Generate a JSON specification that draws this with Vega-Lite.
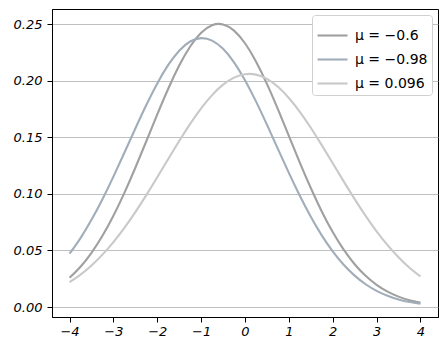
{
  "$schema": "https://vega.github.io/schema/vega-lite/v6.json",
  "width": 386,
  "height": 308,
  "autosize": {"type": "none"},
  "padding": {"left": 52, "top": 9, "right": 10, "bottom": 34},
  "background": "white",
  "config": {
    "view": {"stroke": "black", "strokeWidth": 1},
    "font": "DejaVu Sans",
    "axis": {
      "domainColor": "black",
      "tickColor": "black",
      "tickSize": 5,
      "labelFontSize": 13,
      "labelFontStyle": "italic",
      "labelColor": "black",
      "labelFont": "DejaVu Sans",
      "title": null
    }
  },
  "data": {"values": [
    {"x": -4, "a": 0.02579, "b": 0.04713, "c": 0.02202},
    {"x": -3.75, "a": 0.03558, "b": 0.06093, "c": 0.02869},
    {"x": -3.5, "a": 0.04790, "b": 0.07703, "c": 0.03676},
    {"x": -3.25, "a": 0.06291, "b": 0.09526, "c": 0.04632},
    {"x": -3, "a": 0.08063, "b": 0.11523, "c": 0.05742},
    {"x": -2.75, "a": 0.10083, "b": 0.13631, "c": 0.06999},
    {"x": -2.5, "a": 0.12303, "b": 0.15772, "c": 0.08390},
    {"x": -2.25, "a": 0.14647, "b": 0.17849, "c": 0.09892},
    {"x": -2, "a": 0.17016, "b": 0.19757, "c": 0.11469},
    {"x": -1.75, "a": 0.19288, "b": 0.21389, "c": 0.13079},
    {"x": -1.5, "a": 0.21331, "b": 0.22648, "c": 0.14668},
    {"x": -1.25, "a": 0.23019, "b": 0.23456, "c": 0.16179},
    {"x": -1, "a": 0.24238, "b": 0.23759, "c": 0.17550},
    {"x": -0.75, "a": 0.24902, "b": 0.23539, "c": 0.18722},
    {"x": -0.5, "a": 0.24963, "b": 0.22810, "c": 0.19644},
    {"x": -0.25, "a": 0.24417, "b": 0.21618, "c": 0.20270},
    {"x": 0, "a": 0.23304, "b": 0.20039, "c": 0.20571},
    {"x": 0.25, "a": 0.21701, "b": 0.18169, "c": 0.20531},
    {"x": 0.5, "a": 0.19718, "b": 0.16112, "c": 0.20153},
    {"x": 0.75, "a": 0.17482, "b": 0.13975, "c": 0.19455},
    {"x": 1, "a": 0.15124, "b": 0.11854, "c": 0.18471},
    {"x": 1.25, "a": 0.12764, "b": 0.09836, "c": 0.17247},
    {"x": 1.5, "a": 0.10514, "b": 0.07982, "c": 0.15838},
    {"x": 1.75, "a": 0.08448, "b": 0.06335, "c": 0.14304},
    {"x": 2, "a": 0.06624, "b": 0.04918, "c": 0.12705},
    {"x": 2.25, "a": 0.05068, "b": 0.03734, "c": 0.11098},
    {"x": 2.5, "a": 0.03783, "b": 0.02773, "c": 0.09535},
    {"x": 2.75, "a": 0.02756, "b": 0.02014, "c": 0.08056},
    {"x": 3, "a": 0.01959, "b": 0.01431, "c": 0.06694},
    {"x": 3.25, "a": 0.01358, "b": 0.00994, "c": 0.05471},
    {"x": 3.5, "a": 0.00919, "b": 0.00676, "c": 0.04397},
    {"x": 3.75, "a": 0.00607, "b": 0.00449, "c": 0.03476},
    {"x": 4, "a": 0.00391, "b": 0.00292, "c": 0.02702}
  ]},
  "transform": [
    {"fold": ["a", "b", "c"], "as": ["key", "y"]},
    {"lookup": "key", "from": {"data": {"values": [
      {"key": "a", "series": "μ = −0.6", "order": 0},
      {"key": "b", "series": "μ = −0.98", "order": 1},
      {"key": "c", "series": "μ = 0.096", "order": 2}
    ]}, "key": "key", "fields": ["series", "order"]}}
  ],
  "mark": {"type": "line", "strokeWidth": 2.1, "interpolate": "natural", "clip": true},
  "encoding": {
    "x": {
      "field": "x", "type": "quantitative",
      "scale": {"domain": [-4.4, 4.4], "nice": false, "zero": false},
      "axis": {"values": [-4, -3, -2, -1, 0, 1, 2, 3, 4], "grid": false, "labelPadding": 3, "format": "d"}
    },
    "y": {
      "field": "y", "type": "quantitative",
      "scale": {"domain": [-0.0088, 0.2633], "nice": false, "zero": false},
      "axis": {"values": [0, 0.05, 0.1, 0.15, 0.2, 0.25], "format": ".2f", "grid": true, "gridColor": "#b0b0b0", "gridWidth": 0.8, "labelPadding": 5}
    },
    "color": {
      "field": "series", "type": "nominal",
      "scale": {"domain": ["μ = −0.6", "μ = −0.98", "μ = 0.096"], "range": ["#a0a0a0", "#a2adba", "#c9c9c9"]},
      "legend": {
        "title": null,
        "orient": "none",
        "legendX": 260,
        "legendY": 6,
        "symbolType": "stroke",
        "symbolSize": 900,
        "symbolStrokeWidth": 2.1,
        "labelFontSize": 14,
        "labelFont": "DejaVu Sans",
        "labelColor": "black",
        "labelOffset": 6,
        "rowPadding": -6,
        "padding": 4,
        "fillColor": "white",
        "strokeColor": "#d0d0d0",
        "cornerRadius": 3
      }
    },
    "detail": {"field": "order", "type": "quantitative"}
  }
}
